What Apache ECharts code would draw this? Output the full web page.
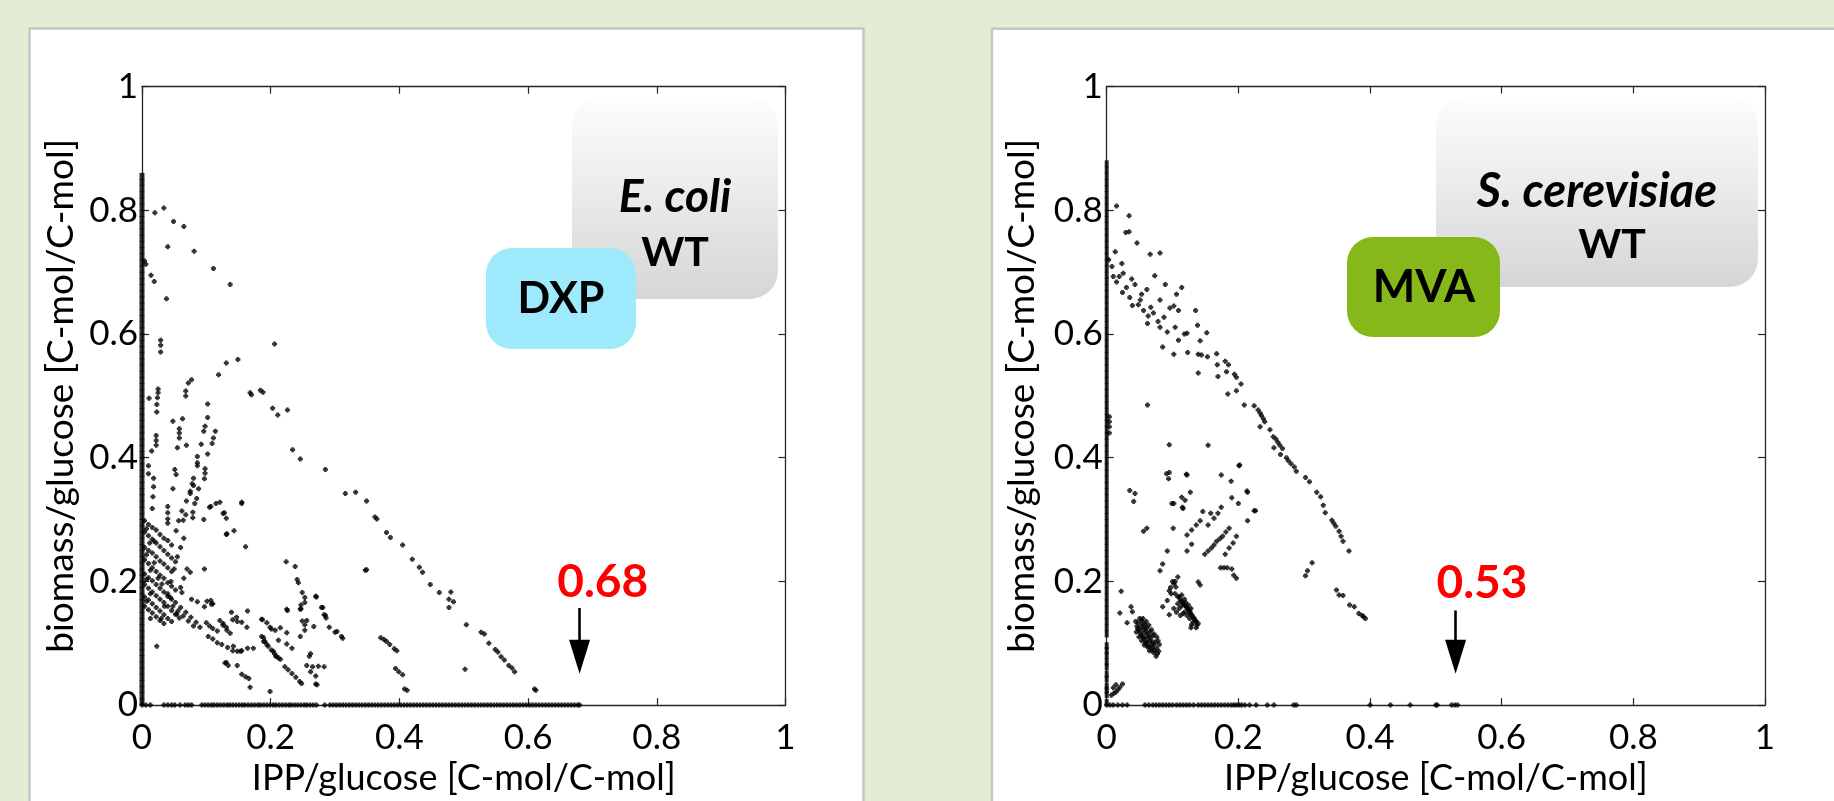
<!DOCTYPE html>
<html><head><meta charset="utf-8">
<script src="https://cdn.jsdelivr.net/npm/echarts@6/dist/echarts.min.js"></script>
<style>html,body{margin:0;padding:0;background:#e4edd3;}#c{width:1834px;height:801px;}</style>
</head><body><div id="c"></div><script>
// ---------- text ----------
const xAxisName = 'IPP/glucose [C-mol/C-mol]';
const yAxisName = 'biomass/glucose [C-mol/C-mol]';
const organisms = ['E. coli', 'S. cerevisiae'];
const strainLabel = 'WT';
const pathways = ['DXP', 'MVA'];
const axisMin = 0, axisMax = 1, axisInterval = 0.2;
// maximal IPP yield annotations
const maxYield = [0.68, 0.53];
const maxYieldLabels = ['0.68', '0.53'];

// ---------- E. coli (DXP) ----------
const ecoliPoints = [
[0.004,0.718],[0.006,0.713],[0.014,0.695],[0.019,0.685],[0.020,0.796],[0.034,0.804],[0.049,0.782],[0.065,0.774],[0.040,0.741],[0.081,0.734],[0.111,0.706],[0.137,0.680],[0.038,0.657],
[0.029,0.590],[0.029,0.582],[0.029,0.571],[0.206,0.584],[0.149,0.559],[0.131,0.553],[0.119,0.534],[0.077,0.526],[0.072,0.521],[0.068,0.508],[0.068,0.500],
[0.025,0.511],[0.025,0.505],[0.024,0.497],[0.023,0.486],[0.023,0.474],[0.011,0.496],
[0.168,0.505],[0.170,0.502],[0.184,0.509],[0.188,0.506],[0.203,0.480],[0.211,0.469],[0.226,0.477],[0.234,0.413],[0.246,0.398],[0.285,0.381],[0.316,0.342],[0.332,0.344],[0.349,0.330],[0.362,0.304],[0.365,0.301],[0.380,0.279],[0.386,0.271],
[0.405,0.259],[0.420,0.236],[0.431,0.223],[0.436,0.215],[0.448,0.195],[0.462,0.182],[0.480,0.183],[0.477,0.171],[0.484,0.167],[0.477,0.158],[0.504,0.130],[0.527,0.118],[0.532,0.115],[0.539,0.100],[0.549,0.090],[0.553,0.086],[0.558,0.078],[0.563,0.073],[0.570,0.064],[0.575,0.060],[0.579,0.054],[0.502,0.058],[0.610,0.026],[0.612,0.024],[0.349,0.219],
[0.048,0.459],[0.063,0.463],[0.058,0.447],[0.058,0.440],[0.058,0.432],[0.102,0.487],[0.102,0.465],[0.098,0.451],[0.096,0.443],[0.114,0.443],[0.111,0.432],[0.109,0.423],[0.092,0.422],[0.102,0.406],[0.086,0.402],[0.086,0.392],[0.086,0.387],[0.098,0.382],[0.098,0.375],[0.097,0.366],[0.080,0.367],[0.078,0.358],[0.075,0.346],[0.088,0.350],[0.085,0.334],[0.082,0.326],
[0.022,0.436],[0.022,0.428],[0.022,0.420],[0.015,0.411],[0.010,0.387],[0.010,0.374],[0.018,0.367],[0.018,0.353],[0.017,0.337],[0.016,0.318],[0.048,0.350],[0.055,0.416],[0.069,0.420],[0.051,0.381],[0.053,0.373],[0.040,0.321],[0.040,0.311],[0.040,0.301],[0.040,0.294],[0.068,0.308],[0.064,0.299],[0.079,0.303],[0.079,0.312],[0.096,0.300],[0.105,0.320],[0.115,0.326],[0.126,0.310],[0.131,0.302],[0.155,0.326],[0.131,0.276],[0.143,0.282],[0.161,0.256],[0.097,0.220],[0.075,0.215],
[0.053,0.282],[0.057,0.298],[0.062,0.314],[0.069,0.330],[0.075,0.342],[0.080,0.355],[0.030,0.140],[0.035,0.160],[0.040,0.180],[0.045,0.200],[0.050,0.220],[0.055,0.240],[0.060,0.255],[0.065,0.270],[0.060,0.190],[0.065,0.205],[0.070,0.220],
[0.004,0.298],[0.010,0.292],[0.016,0.287],[0.022,0.283],[0.028,0.276],[0.034,0.270],[0.040,0.266],[0.046,0.259],
[0.004,0.280],[0.010,0.274],[0.016,0.268],[0.022,0.262],[0.028,0.256],[0.034,0.250],[0.040,0.244],[0.046,0.238],[0.052,0.232],
[0.004,0.255],[0.010,0.250],[0.016,0.246],[0.022,0.240],[0.028,0.233],[0.034,0.228],[0.040,0.222],[0.046,0.216],
[0.004,0.235],[0.010,0.229],[0.016,0.222],[0.022,0.216],[0.028,0.210],[0.034,0.205],[0.040,0.198],[0.046,0.192],[0.052,0.186],
[0.004,0.212],[0.010,0.206],[0.016,0.201],[0.022,0.195],[0.028,0.189],[0.034,0.183],[0.040,0.176],[0.046,0.171],
[0.004,0.195],[0.010,0.189],[0.016,0.183],[0.022,0.177],[0.028,0.171],[0.034,0.166],[0.040,0.160],[0.046,0.153],[0.052,0.147],[0.058,0.141],
[0.004,0.175],[0.010,0.170],[0.016,0.164],[0.022,0.158],[0.028,0.152],[0.034,0.146],[0.040,0.140],[0.046,0.135],
[0.004,0.160],[0.010,0.154],[0.016,0.149],[0.022,0.143],[0.028,0.137],[0.034,0.132],
[0.007,0.285],[0.012,0.262],[0.007,0.243],[0.013,0.218],[0.007,0.203],[0.013,0.180],[0.007,0.168],[0.013,0.140],[0.019,0.230],[0.025,0.205],[0.031,0.196],[0.019,0.265],
[0.121,0.328],[0.107,0.321],[0.128,0.311],[0.132,0.277],[0.155,0.328],[0.187,0.138],[0.194,0.133],[0.141,0.138],[0.148,0.135],[0.164,0.152],[0.107,0.169],[0.110,0.164],
[0.100,0.133],[0.105,0.128],[0.110,0.124],[0.117,0.120],[0.103,0.111],[0.110,0.107],[0.117,0.101],[0.124,0.098],[0.126,0.132],[0.131,0.126],
[0.133,0.093],[0.141,0.088],[0.148,0.087],[0.155,0.088],[0.164,0.092],[0.173,0.092],[0.131,0.069],[0.134,0.064],[0.148,0.064],[0.155,0.050],[0.161,0.046],[0.166,0.043],[0.168,0.029],[0.199,0.022],
[0.189,0.103],[0.194,0.098],[0.201,0.089],[0.206,0.083],[0.189,0.109],[0.208,0.079],[0.212,0.076],[0.222,0.062],[0.227,0.057],[0.233,0.051],[0.239,0.045],[0.245,0.038],[0.248,0.035],[0.225,0.099],[0.233,0.092],[0.201,0.123],[0.215,0.125],[0.225,0.117],
[0.224,0.232],[0.238,0.224],[0.241,0.203],[0.243,0.198],[0.249,0.182],[0.271,0.175],[0.247,0.162],[0.247,0.156],[0.226,0.153],[0.281,0.158],[0.283,0.146],[0.286,0.141],[0.249,0.136],[0.253,0.130],[0.267,0.127],[0.291,0.126],[0.303,0.119],[0.312,0.108],[0.262,0.083],[0.260,0.079],[0.256,0.064],[0.265,0.062],[0.274,0.063],[0.283,0.062],[0.262,0.054],[0.270,0.047],[0.272,0.033],
[0.371,0.109],[0.376,0.106],[0.380,0.103],[0.385,0.098],[0.392,0.091],[0.396,0.088],[0.394,0.059],[0.399,0.054],[0.405,0.049],[0.408,0.026],[0.412,0.024],[0.347,0.218],
[0.062,0.182],[0.077,0.171],[0.086,0.167],[0.097,0.159],[0.101,0.168],[0.108,0.163],[0.121,0.137],[0.126,0.129],[0.132,0.121],[0.137,0.116],[0.139,0.150],[0.147,0.142],[0.155,0.134],[0.163,0.126],[0.142,0.095],[0.153,0.087],[0.129,0.068],
[0.186,0.139],[0.199,0.126],[0.207,0.121],[0.186,0.111],[0.191,0.103],[0.196,0.095],[0.204,0.087],[0.209,0.079],[0.215,0.074],[0.212,0.105],[0.225,0.155],[0.246,0.155],[0.253,0.174],[0.253,0.166],[0.256,0.137],[0.253,0.121],[0.246,0.111],[0.270,0.176],[0.279,0.158],[0.285,0.145],[0.300,0.118],[0.310,0.111],[0.270,0.034],[0.023,0.095],[0.054,0.147],
[0.044,0.174],[0.052,0.166],[0.060,0.158],[0.068,0.150],[0.076,0.142],[0.084,0.134],[0.090,0.126],[0.048,0.160],[0.056,0.152],[0.064,0.144],[0.072,0.136],[0.080,0.128]
];
// points lying on the IPP = 0 axis (biomass values)
const ecoliAxisColumn = [0.005,0.015,0.025,0.035,0.045,0.055,0.065,0.075,0.085,0.095,0.105,0.115,0.125,0.135,0.145,0.155,0.165,0.175,0.185,0.195,0.205,0.215,0.225,0.235,0.245,0.255,0.265,0.275,0.285,0.295,0.305,0.315,0.325,0.335,0.345,0.355,0.365,0.375,0.385,0.395,0.405,0.415,0.425,0.435,0.445,0.455,0.465,0.475,0.485,0.495,0.505,0.515,0.525,0.535,0.545,0.555,0.565,0.575,0.585,0.595,0.605,0.615,0.625,0.635,0.645,0.655,0.665,0.675,0.685,0.695,0.705,0.715,0.725,0.735,0.745,0.755,0.765,0.775,0.785,0.795,0.805,0.815,0.825,0.835,0.845,0.855];
// points lying on the biomass = 0 axis (IPP values)
const ecoliBaseRow = [0.000,0.006,0.013,0.034,0.040,0.046,0.051,0.059,0.067,0.072,0.077,0.093,0.098,0.103,0.108,0.112,0.117,0.122,0.127,0.132,0.136,0.141,0.146,0.151,0.156,0.160,0.165,0.170,0.175,0.180,0.184,0.189,0.194,0.199,0.204,0.208,0.213,0.218,0.223,0.228,0.232,0.237,0.242,0.247,0.252,0.256,0.261,0.266,0.271,0.284,0.292,0.297,0.302,0.307,0.312,0.317,0.322,0.327,0.332,0.337,0.342,0.347,0.352,0.357,0.362,0.367,0.372,0.377,0.382,0.387,0.392,0.397,0.402,0.407,0.412,0.417,0.422,0.427,0.432,0.437,0.442,0.447,0.452,0.457,0.462,0.467,0.472,0.477,0.482,0.487,0.492,0.497,0.502,0.507,0.512,0.517,0.522,0.527,0.532,0.537,0.542,0.547,0.552,0.557,0.562,0.567,0.572,0.577,0.582,0.587,0.592,0.597,0.602,0.607,0.612,0.617,0.622,0.627,0.632,0.637,0.642,0.647,0.652,0.657,0.662,0.667,0.672,0.677,0.680];

// ---------- S. cerevisiae (MVA) ----------
const yeastPoints = [
[0.015,0.807],[0.034,0.791],[0.029,0.764],[0.034,0.765],[0.046,0.747],[0.013,0.733],[0.066,0.729],[0.081,0.731],[0.003,0.720],[0.008,0.709],[0.010,0.693],[0.015,0.684],[0.023,0.714],[0.025,0.698],[0.019,0.693],[0.038,0.689],[0.043,0.680],[0.030,0.675],[0.024,0.667],[0.035,0.659],[0.039,0.646],[0.073,0.694],[0.089,0.680],[0.061,0.672],[0.053,0.664],[0.051,0.655],[0.048,0.647],[0.056,0.638],[0.063,0.629],[0.062,0.617],[0.067,0.643],[0.071,0.634],[0.081,0.655],[0.096,0.642],[0.102,0.645],[0.109,0.638],[0.106,0.664],[0.114,0.675],[0.087,0.627],[0.078,0.620],[0.081,0.611],[0.092,0.603],[0.104,0.611],[0.109,0.590],[0.102,0.567],[0.085,0.579],[0.122,0.601],[0.118,0.600],[0.123,0.570],[0.135,0.638],[0.138,0.614],[0.142,0.589],[0.152,0.602],[0.139,0.567],[0.144,0.566],[0.153,0.563],[0.139,0.537],[0.167,0.568],[0.168,0.550],[0.169,0.531],[0.180,0.556],[0.185,0.550],[0.182,0.539],[0.194,0.535],[0.197,0.530],[0.204,0.519],[0.184,0.503],[0.197,0.508],[0.209,0.485],[0.224,0.484],[0.230,0.477],[0.233,0.472],[0.235,0.468],[0.238,0.463],[0.240,0.458],[0.233,0.450],[0.248,0.445],[0.253,0.434],[0.257,0.430],[0.260,0.425],[0.263,0.420],[0.267,0.415],[0.254,0.416],[0.264,0.405],[0.273,0.400],[0.276,0.395],[0.280,0.390],[0.285,0.385],[0.288,0.378],[0.302,0.368],[0.308,0.361],[0.319,0.344],[0.325,0.337],[0.329,0.323],[0.332,0.311],[0.342,0.299],[0.345,0.294],[0.348,0.289],[0.353,0.281],[0.356,0.273],[0.359,0.265],[0.368,0.249],
[0.312,0.230],[0.305,0.217],[0.302,0.209],[0.349,0.186],[0.353,0.178],[0.359,0.177],[0.369,0.162],[0.376,0.159],[0.383,0.148],[0.388,0.145],[0.390,0.143],[0.393,0.140],
[0.062,0.485],[0.095,0.421],[0.154,0.420],[0.091,0.374],[0.094,0.366],[0.121,0.373],[0.201,0.387],[0.174,0.372],[0.189,0.362],[0.213,0.346],[0.224,0.314],[0.035,0.347],[0.043,0.342],[0.041,0.329],[0.099,0.326],[0.114,0.336],[0.127,0.344],[0.116,0.318],[0.056,0.281],[0.061,0.286],[0.101,0.286],[0.004,0.466],[0.004,0.458],[0.004,0.450],[0.004,0.440],
[0.022,0.184],[0.020,0.149],[0.037,0.159],[0.039,0.151],[0.031,0.133],
[0.044,0.135],[0.047,0.124],[0.051,0.117],[0.054,0.111],[0.058,0.106],[0.061,0.101],[0.064,0.095],[0.068,0.090],[0.071,0.085],[0.075,0.079],[0.050,0.140],[0.054,0.132],[0.057,0.126],[0.060,0.120],[0.063,0.114],[0.066,0.109],[0.069,0.103],[0.072,0.098],[0.076,0.092],[0.046,0.128],[0.049,0.121],[0.052,0.113],[0.056,0.108],[0.059,0.100],[0.062,0.094],[0.065,0.088],[0.055,0.140],[0.060,0.135],[0.064,0.129],[0.068,0.122],[0.072,0.115],[0.076,0.110],[0.078,0.104],[0.080,0.098],
[0.048,0.133],[0.052,0.127],[0.055,0.122],[0.058,0.116],[0.062,0.110],[0.065,0.104],[0.068,0.098],[0.070,0.093],[0.073,0.088],[0.077,0.083],[0.079,0.087],[0.074,0.102],[0.070,0.112],[0.066,0.118],[0.061,0.125],[0.058,0.131],[0.053,0.137],[0.045,0.118],[0.049,0.110],[0.053,0.104],[0.057,0.097],
[0.007,0.016],[0.011,0.019],[0.014,0.021],[0.017,0.025],[0.020,0.029],[0.024,0.034],[0.010,0.028],[0.014,0.033],
[0.081,0.217],[0.085,0.228],[0.092,0.249],[0.095,0.185],[0.102,0.196],[0.108,0.207],[0.085,0.159],[0.092,0.169],[0.098,0.180],[0.105,0.191],[0.095,0.146],[0.102,0.156],[0.108,0.164],[0.112,0.170],[0.116,0.165],[0.119,0.161],[0.122,0.156],[0.125,0.151],[0.128,0.146],[0.132,0.141],[0.135,0.136],[0.139,0.132],[0.129,0.130],[0.136,0.135],[0.110,0.175],[0.114,0.160],[0.118,0.150],[0.122,0.145],[0.126,0.140],[0.106,0.150],[0.112,0.145],
[0.104,0.180],[0.108,0.175],[0.113,0.168],[0.117,0.163],[0.121,0.159],[0.124,0.155],[0.127,0.150],[0.130,0.145],[0.133,0.140],[0.137,0.129],[0.131,0.134],[0.114,0.178],[0.118,0.171],[0.120,0.166],[0.124,0.162],[0.128,0.156],[0.110,0.156],[0.116,0.148],[0.100,0.200],[0.097,0.190],[0.104,0.200],[0.136,0.125],[0.128,0.125],
[0.122,0.249],[0.129,0.260],[0.122,0.275],[0.129,0.283],[0.136,0.291],[0.142,0.298],[0.146,0.313],[0.158,0.310],[0.154,0.291],[0.163,0.302],[0.169,0.310],[0.174,0.320],[0.149,0.244],[0.154,0.249],[0.159,0.254],[0.163,0.259],[0.167,0.265],[0.172,0.269],[0.176,0.273],[0.181,0.280],[0.186,0.286],[0.180,0.244],[0.186,0.254],[0.192,0.262],[0.197,0.273],[0.173,0.222],[0.178,0.222],[0.183,0.222],[0.190,0.220],[0.193,0.210],[0.197,0.205],[0.139,0.199],[0.142,0.194],[0.115,0.320],[0.119,0.331],[0.102,0.326],[0.214,0.298],[0.226,0.314],[0.095,0.376],[0.122,0.372],[0.202,0.388],[0.214,0.344],[0.200,0.326],[0.190,0.335]
];
const yeastAxisColumn = [0.004,0.017,0.024,0.030,0.042,0.050,0.062,0.070,0.080,0.088,0.096,0.115,0.125,0.135,0.145,0.155,0.165,0.175,0.185,0.195,0.205,0.215,0.225,0.235,0.245,0.255,0.265,0.275,0.285,0.295,0.305,0.315,0.325,0.335,0.345,0.355,0.365,0.375,0.385,0.395,0.405,0.415,0.425,0.435,0.445,0.455,0.465,0.475,0.485,0.495,0.505,0.515,0.525,0.535,0.545,0.555,0.565,0.575,0.585,0.595,0.605,0.615,0.625,0.635,0.645,0.655,0.665,0.675,0.685,0.695,0.705,0.715,0.725,0.735,0.745,0.755,0.765,0.775,0.785,0.795,0.805,0.815,0.825,0.835,0.845,0.855,0.865,0.875];
const yeastBaseRow = [0.000,0.005,0.010,0.017,0.024,0.031,0.058,0.064,0.070,0.075,0.080,0.085,0.090,0.095,0.100,0.106,0.111,0.116,0.121,0.126,0.132,0.139,0.144,0.149,0.154,0.159,0.164,0.169,0.174,0.179,0.184,0.189,0.193,0.197,0.201,0.205,0.210,0.217,0.227,0.244,0.254,0.284,0.288,0.400,0.431,0.461,0.500,0.502,0.524,0.529,0.533];

// ---------- layout ----------
const FONT = 'Lato';
const grids = [
  {left: 142, top: 86.7, width: 643.5, height: 633.3},
  {left: 1106.7, top: 86.5, width: 658.3, height: 631}
];
const yNameGaps = [62, 66];
const columnWidths = [5, 4];
const plusSym = 'path://M1,0H3V1H4V3H3V4H1V3H0V1H1Z';
const datasets = [
  {pts: ecoliPoints, col: ecoliAxisColumn, row: ecoliBaseRow},
  {pts: yeastPoints, col: yeastAxisColumn, row: yeastBaseRow}
];
const arrowTop = [0.157, 0.153], arrowHead = [0.078, 0.078], arrowShaftEnd = [0.09, 0.09];
const labelPos = [[0.716, 0.199], [0.570, 0.197]];

const lineCol = '#262626';
const xAxes = [], yAxes = [], series = [];
grids.forEach((g, i) => {
  const base = {gridIndex: i, type: 'value', min: axisMin, max: axisMax, interval: axisInterval,
    splitLine: {show: false},
    axisLine: {show: true, onZero: false, lineStyle: {color: lineCol, width: 1.3}},
    axisTick: {show: true, inside: true, length: 7, lineStyle: {color: lineCol, width: 1.2}}};
  xAxes.push(Object.assign({}, base, {position: 'bottom',
    axisLabel: {fontSize: 35, fontFamily: FONT, color: '#000', margin: 15},
    name: xAxisName, nameLocation: 'middle', nameGap: 50,
    nameTextStyle: {fontSize: 36, fontFamily: FONT, color: '#000'}}));
  xAxes.push(Object.assign({}, base, {position: 'top', axisLabel: {show: false}}));
  yAxes.push(Object.assign({}, base, {position: 'left',
    axisLabel: {fontSize: 35, fontFamily: FONT, color: '#000', margin: 4},
    name: yAxisName, nameLocation: 'middle', nameGap: yNameGaps[i],
    nameTextStyle: {fontSize: 37, fontFamily: FONT, color: '#000'}}));
  yAxes.push(Object.assign({}, base, {position: 'right', axisLabel: {show: false}}));
  const d = datasets[i];
  const xi = i * 2, yi = i * 2;
  series.push({type: 'scatter', xAxisIndex: xi, yAxisIndex: yi, symbol: 'rect', symbolSize: [columnWidths[i], 7],
    itemStyle: {color: '#000'}, silent: true, data: d.col.map(v => [0, v])});
  series.push({type: 'scatter', xAxisIndex: xi, yAxisIndex: yi, symbol: plusSym, symbolSize: 5,
    itemStyle: {color: '#000'}, silent: true, data: d.row.map(v => [v, 0])});
  series.push({type: 'scatter', xAxisIndex: xi, yAxisIndex: yi, symbol: plusSym, symbolSize: 5,
    itemStyle: {color: '#000'}, silent: true, data: d.pts,
    markLine: {silent: true, symbol: ['none', 'none'], animation: false,
      lineStyle: {color: '#000', width: 2.6, type: 'solid'}, label: {show: false},
      data: [[{coord: [maxYield[i], arrowTop[i]]}, {coord: [maxYield[i], arrowShaftEnd[i]]}]]},
    markPoint: {silent: true, animation: false, data: [
      {coord: [maxYield[i], arrowHead[i]], symbol: 'triangle', symbolSize: [21, 34], symbolRotate: 180,
        itemStyle: {color: '#000'}, label: {show: false}},
      {coord: labelPos[i], symbol: 'rect', symbolSize: 1, itemStyle: {color: 'rgba(0,0,0,0)'},
        label: {show: true, position: 'inside', formatter: maxYieldLabels[i], color: '#ff0000',
          fontSize: 46, fontWeight: 'bold', fontFamily: FONT}}
    ]}});
});

function grayGrad() {
  return {type: 'linear', x: 0, y: 0, x2: 0, y2: 1,
    colorStops: [{offset: 0, color: '#fdfdfd'}, {offset: 1, color: '#d6d6d6'}]};
}
const graphic = [
  {type: 'rect', z: -10, shape: {x: 29.5, y: 28.5, width: 834, height: 820}, style: {fill: '#fff', stroke: '#c6c6c6', lineWidth: 2.5}},
  {type: 'rect', z: -10, shape: {x: 992, y: 28.7, width: 900, height: 820}, style: {fill: '#fff', stroke: '#c6c6c6', lineWidth: 2.5}},
  // E. coli box
  {type: 'rect', z: 50, shape: {x: 572, y: 97, width: 206, height: 202, r: 28}, style: {fill: grayGrad()}},
  {type: 'text', z: 51, x: 675, y: 197, style: {text: organisms[0], fontSize: 46, fontWeight: 'bold', fontStyle: 'italic', fontFamily: FONT, fill: '#000', align: 'center', verticalAlign: 'middle'}},
  {type: 'text', z: 51, x: 675, y: 253, style: {text: strainLabel, fontSize: 41, fontWeight: 'bold', fontFamily: FONT, fill: '#000', align: 'center', verticalAlign: 'middle'}},
  {type: 'rect', z: 52, shape: {x: 486, y: 248, width: 150, height: 101, r: 26}, style: {fill: '#9ee9fc'}},
  {type: 'text', z: 53, x: 561, y: 299, style: {text: pathways[0], fontSize: 43, fontWeight: 'bold', fontFamily: FONT, fill: '#000', align: 'center', verticalAlign: 'middle'}},
  // S. cerevisiae box
  {type: 'rect', z: 50, shape: {x: 1436, y: 97, width: 322, height: 190, r: 28}, style: {fill: grayGrad()}},
  {type: 'text', z: 51, x: 1597, y: 192, style: {text: organisms[1], fontSize: 47, fontWeight: 'bold', fontStyle: 'italic', fontFamily: FONT, fill: '#000', align: 'center', verticalAlign: 'middle'}},
  {type: 'text', z: 51, x: 1612, y: 245, style: {text: strainLabel, fontSize: 41, fontWeight: 'bold', fontFamily: FONT, fill: '#000', align: 'center', verticalAlign: 'middle'}},
  {type: 'rect', z: 52, shape: {x: 1347, y: 237, width: 153, height: 100, r: 26}, style: {fill: '#86b81a'}},
  {type: 'text', z: 53, x: 1424, y: 287, style: {text: pathways[1], fontSize: 45, fontWeight: 'bold', fontFamily: FONT, fill: '#000', align: 'center', verticalAlign: 'middle'}}
];

const chart = echarts.init(document.getElementById('c'), null, {renderer: 'canvas'});
chart.setOption({
  backgroundColor: '#e4edd3',
  animation: false,
  textStyle: {fontFamily: FONT},
  grid: grids,
  xAxis: xAxes,
  yAxis: yAxes,
  graphic: graphic,
  series: series
});
</script></body></html>
